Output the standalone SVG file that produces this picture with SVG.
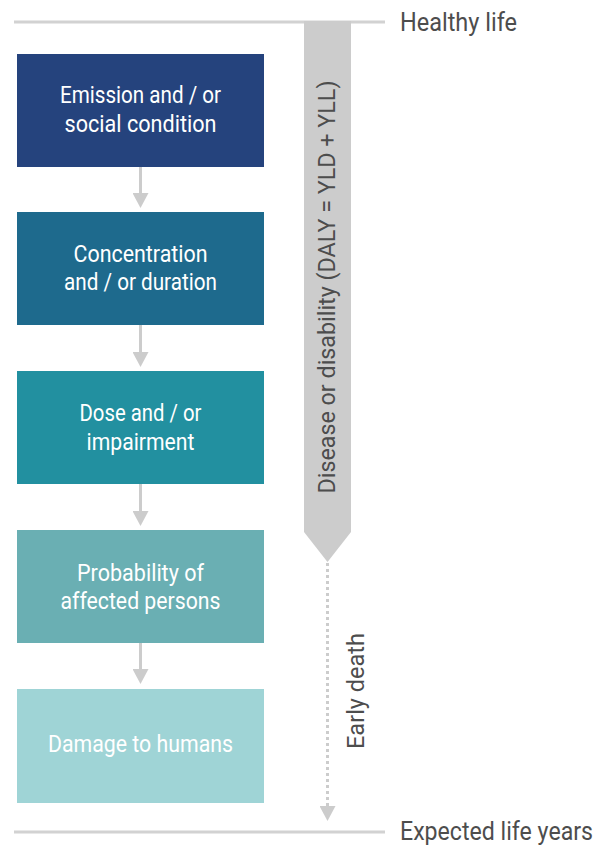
<svg xmlns="http://www.w3.org/2000/svg" width="600" height="848" viewBox="0 0 600 848">
  <style>
    .box-text { font-family: Roboto, "Liberation Sans", sans-serif; font-size: 23px; fill: #ffffff; text-anchor: middle; }
    .label { font-family: Roboto, "Liberation Sans", sans-serif; font-size: 25px; fill: #4d4d4d; }
    .vlabel { font-family: Roboto, "Liberation Sans", sans-serif; font-size: 23px; fill: #4d4d4d; text-anchor: middle; }
    .rule { stroke: #d2d2d2; stroke-width: 3; fill: none; }
    .conn { stroke: #cccccc; stroke-width: 3; fill: none; }
  </style>
  <defs>
    <marker id="arrow" viewBox="0 0 15 16" refX="0" refY="8" markerWidth="15" markerHeight="16" markerUnits="userSpaceOnUse" orient="auto">
      <polygon points="0,0 15,8 0,16" fill="#cccccc"/>
    </marker>
  </defs>
  <rect width="600" height="848" fill="#ffffff"/>

  <g id="scale">
    <line class="rule" x1="14" y1="22" x2="385" y2="22"/>
    <line class="rule" x1="14" y1="832" x2="385" y2="832"/>
    <text class="label" x="400" y="31" textLength="117" lengthAdjust="spacingAndGlyphs">Healthy life</text>
    <text class="label" x="400" y="840" font-size="22" textLength="193" lengthAdjust="spacingAndGlyphs">Expected life years</text>
  </g>

  <g id="disease-bar">
    <polygon points="304,21 351,21 351,532 327.5,562 304,532" fill="#cccccc"/>
    <text class="vlabel" transform="translate(335,287) rotate(-90)" textLength="413" lengthAdjust="spacingAndGlyphs">Disease or disability (DALY = YLD + YLL)</text>
  </g>

  <g id="early-death">
    <line x1="327.5" y1="563" x2="327.5" y2="806" stroke="#cccccc" stroke-width="3" stroke-dasharray="3 3" marker-end="url(#arrow)"/>
    <text class="vlabel" transform="translate(364,691) rotate(-90)" textLength="116" lengthAdjust="spacingAndGlyphs">Early death</text>
  </g>

  <g id="connectors">
    <line class="conn" x1="140.5" y1="167" x2="140.5" y2="193" marker-end="url(#arrow)"/>
    <line class="conn" x1="140.5" y1="325" x2="140.5" y2="352" marker-end="url(#arrow)"/>
    <line class="conn" x1="140.5" y1="484" x2="140.5" y2="511" marker-end="url(#arrow)"/>
    <line class="conn" x1="140.5" y1="643" x2="140.5" y2="669" marker-end="url(#arrow)"/>
  </g>

  <g id="emission">
    <rect x="17" y="54" width="247" height="113" fill="#25437d"/>
    <text class="box-text" x="140.5" y="103" textLength="161" lengthAdjust="spacingAndGlyphs">Emission and / or</text>
    <text class="box-text" x="140.5" y="132" textLength="152" lengthAdjust="spacingAndGlyphs">social condition</text>
  </g>

  <g id="concentration">
    <rect x="17" y="212" width="247" height="113" fill="#1e6a8d"/>
    <text class="box-text" x="140.5" y="262" textLength="134" lengthAdjust="spacingAndGlyphs">Concentration</text>
    <text class="box-text" x="140.5" y="290" textLength="153" lengthAdjust="spacingAndGlyphs">and / or duration</text>
  </g>

  <g id="dose">
    <rect x="17" y="371" width="247" height="113" fill="#2290a0"/>
    <text class="box-text" x="140.5" y="421" textLength="122" lengthAdjust="spacingAndGlyphs">Dose and / or</text>
    <text class="box-text" x="140.5" y="450" textLength="108" lengthAdjust="spacingAndGlyphs">impairment</text>
  </g>

  <g id="probability">
    <rect x="17" y="530" width="247" height="113" fill="#6aafb3"/>
    <text class="box-text" x="140.5" y="581" textLength="127" lengthAdjust="spacingAndGlyphs">Probability of</text>
    <text class="box-text" x="140.5" y="609" textLength="160" lengthAdjust="spacingAndGlyphs">affected persons</text>
  </g>

  <g id="damage">
    <rect x="17" y="689" width="247" height="114" fill="#9fd4d6"/>
    <text class="box-text" x="140.5" y="752" textLength="185" lengthAdjust="spacingAndGlyphs">Damage to humans</text>
  </g>
</svg>
